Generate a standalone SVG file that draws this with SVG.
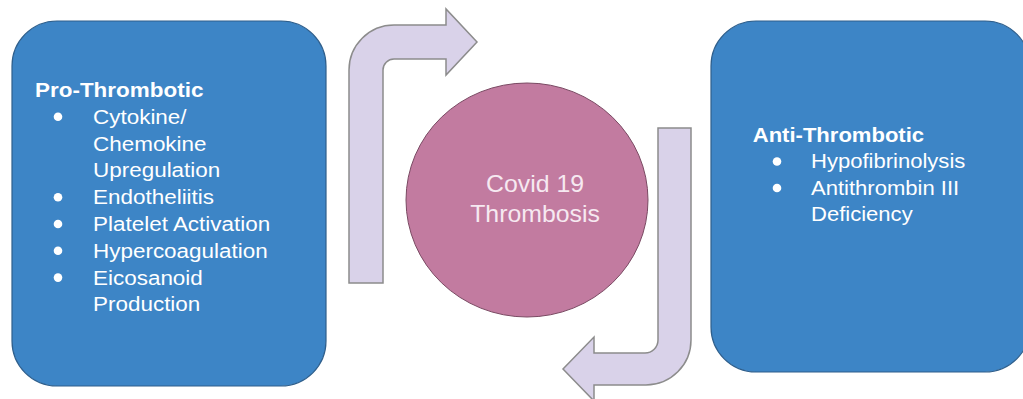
<svg xmlns="http://www.w3.org/2000/svg" width="1023" height="399" viewBox="0 0 1023 399">
  <style>
    .box { fill: #3d85c6; stroke: #2f5f8c; stroke-width: 1.2; }
    .hub { fill: #c27ba0; stroke: #7a4a63; stroke-width: 1; }
    .flow { fill: #d9d2e9; stroke: #8c8c8c; stroke-width: 1.5; stroke-linejoin: miter; }
    .txt { font-family: "Liberation Sans", Arial, sans-serif; font-size: 21px; fill: #ffffff; }
    .head { font-weight: bold; }
    .hubtxt { font-family: "Liberation Sans", Arial, sans-serif; font-size: 23px; fill: #f6e9f1; text-anchor: middle; }
    .dot { fill: #ffffff; }
  </style>

  <rect width="1023" height="399" fill="#ffffff"/>

  <!-- Pro-thrombotic factors -->
  <g id="pro-thrombotic">
    <rect class="box" x="12" y="21" width="314" height="365" rx="45" ry="45"/>
    <g class="txt" transform="scale(1.07,1)">
      <text class="head" x="32.7" y="97">Pro-Thrombotic</text>
      <text x="86.9" y="123.8">Cytokine/</text>
      <text x="86.9" y="150.6">Chemokine</text>
      <text x="86.9" y="177.4">Upregulation</text>
      <text x="86.9" y="204.2">Endotheliitis</text>
      <text x="86.9" y="231">Platelet Activation</text>
      <text x="86.9" y="257.8">Hypercoagulation</text>
      <text x="86.9" y="284.6">Eicosanoid</text>
      <text x="86.9" y="311.4">Production</text>
    </g>
    <circle class="dot" cx="58" cy="116.8" r="4.3"/>
    <circle class="dot" cx="58" cy="197.2" r="4.3"/>
    <circle class="dot" cx="58" cy="224" r="4.3"/>
    <circle class="dot" cx="58" cy="250.8" r="4.3"/>
    <circle class="dot" cx="58" cy="277.6" r="4.3"/>
  </g>

  <!-- Central outcome -->
  <g id="covid-thrombosis">
    <ellipse class="hub" cx="527" cy="200" rx="121" ry="117"/>
    <g transform="scale(1.08,1)">
      <text class="hubtxt" x="495.4" y="192">Covid 19</text>
      <text class="hubtxt" x="495.4" y="222">Thrombosis</text>
    </g>
  </g>

  <!-- Anti-thrombotic factors -->
  <g id="anti-thrombotic">
    <rect class="box" x="711" y="21" width="319" height="351" rx="45" ry="45"/>
    <g class="txt" transform="scale(1.05,1)">
      <text class="head" x="716.9" y="142">Anti-Thrombotic</text>
      <text x="772.4" y="168.5">Hypofibrinolysis</text>
      <text x="772.4" y="195">Antithrombin III</text>
      <text x="772.4" y="221.5">Deficiency</text>
    </g>
    <circle class="dot" cx="777" cy="161.5" r="4.3"/>
    <circle class="dot" cx="777" cy="188" r="4.3"/>
  </g>

  <!-- Bent block arrows forming the cycle -->
  <g id="connectors">
    <path class="flow" d="M349,283 L349,70 A45,45 0 0 1 394,25 L446,25 L446,9 L477,42 L446,75 L446,59 L394,59 A11,11 0 0 0 383,70 L383,283 Z"/>
    <path class="flow" d="M658,128 L691,128 L691,340 A45,45 0 0 1 646,385 L594,385 L594,401 L563,369 L594,337 L594,353 L645,353 A13,13 0 0 0 658,340 Z"/>
  </g>
</svg>
